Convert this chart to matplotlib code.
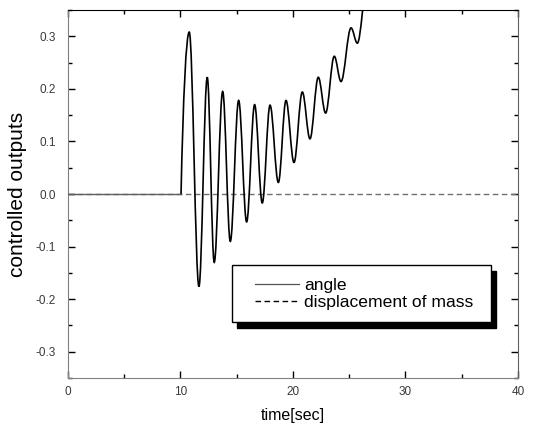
import matplotlib
matplotlib.use('Agg')
import matplotlib.pyplot as plt
from matplotlib.path import Path
from matplotlib.patches import PathPatch, Rectangle
from matplotlib.lines import Line2D
from matplotlib.ticker import MultipleLocator

plt.rcParams['font.family'] = ['Liberation Sans', 'DejaVu Sans']
plt.rcParams['axes.unicode_minus'] = False

# angle stays at rest until the disturbance at t=10
t_rest = [0.0, 10.05]
angle_rest = [0.0, 0.0]

# turning points of the angle response (peaks / troughs)
t_turn = [10.05, 10.78, 11.64, 12.38, 13.00, 13.75, 14.43, 15.17, 15.88,
          16.59, 17.27, 17.96, 18.70, 19.38, 20.09, 20.83, 21.51, 22.25,
          22.90, 23.67, 24.27, 25.16, 25.72, 26.60]
angle_turn = [0.000, 0.308, -0.176, 0.222, -0.130, 0.195, -0.090, 0.178, -0.053,
              0.170, -0.017, 0.169, 0.022, 0.178, 0.060, 0.194, 0.105, 0.222,
              0.154, 0.262, 0.214, 0.316, 0.287, 0.400]

# displacement of mass stays at zero
t_mass = [0.0, 40.0]
mass_disp = [0.0, 0.0]

xticks = [0, 10, 20, 30, 40]
yticks = [-0.3, -0.2, -0.1, 0.0, 0.1, 0.2, 0.3]


def turning_point_path(ts, vs):
    # smooth curve through the turning points: cubic beziers with flat tangents at extremes
    verts = [(ts[0], vs[0])]
    codes = [Path.MOVETO]
    a = 0.3634
    for i in range(1, len(ts)):
        t0, v0 = ts[i - 1], vs[i - 1]
        t1, v1 = ts[i], vs[i]
        dt = t1 - t0
        if i == 1:
            c1 = (t0 + 0.25 * dt, v0 + 0.6 * (v1 - v0))
        else:
            c1 = (t0 + a * dt, v0)
        c2 = (t1 - a * dt, v1)
        verts += [c1, c2, (t1, v1)]
        codes += [Path.CURVE4] * 3
    return Path(verts, codes)


fig = plt.figure(figsize=(5.34, 4.30), dpi=100)
ax = fig.add_axes([0.1273, 0.1209, 0.8427, 0.8558])

ax.plot(t_mass, mass_disp, color='#707070', lw=1.0, linestyle=(0, (4, 2.5)), zorder=2)
ax.plot(t_rest, angle_rest, color='#606060', lw=1.0, zorder=3)
ax.add_patch(PathPatch(turning_point_path(t_turn, angle_turn), fill=False,
                       edgecolor='k', lw=1.2, zorder=3))

ax.set_xlim(0, 40)
ax.set_ylim(-0.35, 0.35)
ax.set_xticks(xticks)
ax.set_yticks(yticks)
ax.xaxis.set_minor_locator(MultipleLocator(5))
ax.yaxis.set_minor_locator(MultipleLocator(0.05))
ax.tick_params(which='both', direction='in', top=True, right=True, colors='k',
               labelcolor='#3a3a3a', labelsize=8.5, width=1)
ax.tick_params(which='major', length=5)
ax.tick_params(which='minor', length=3)
ax.tick_params(axis='y', pad=8.5)
ax.tick_params(axis='x', pad=6)

for side in ['left', 'bottom']:
    ax.spines[side].set_color('#808080')
ax.spines['right'].set_color('#606060')
ax.spines['top'].set_color('k')

ax.set_xlabel('time[sec]', fontsize=11.5, labelpad=7)
ax.set_ylabel('controlled outputs', fontsize=15, labelpad=6)

# legend box with a solid black drop shadow
bx, by, bw, bh = 0.364, 0.153, 0.575, 0.154
ax.add_patch(Rectangle((bx + 0.0115, by - 0.0165), bw, bh, transform=ax.transAxes,
                       facecolor='k', edgecolor='k', zorder=6))
ax.add_patch(Rectangle((bx, by), bw, bh, transform=ax.transAxes,
                       facecolor='white', edgecolor='k', lw=1.0, zorder=7))
handles = [Line2D([], [], color='#555555', lw=0.9),
           Line2D([], [], color='k', lw=1.0, linestyle=(0, (4, 2.5)))]
leg = ax.legend(handles, ['angle', 'displacement of mass'], loc='center left',
                bbox_to_anchor=(0.4156, 0.229), frameon=False, fontsize=12.6,
                borderpad=0, borderaxespad=0, handlelength=2.5,
                handletextpad=0.3, labelspacing=0.12)
leg.set_zorder(8)

fig.savefig('out.png', dpi=100)
